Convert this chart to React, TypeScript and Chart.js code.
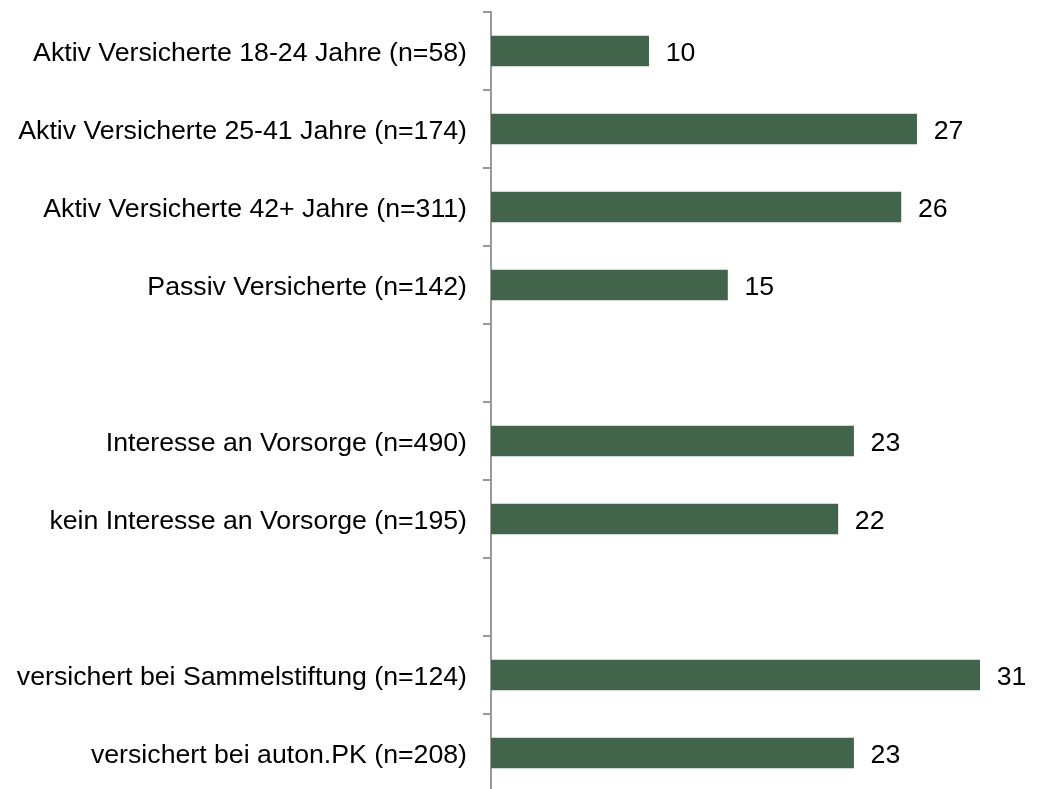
import React, { useEffect, useRef } from "react";
import { Chart, registerables } from "chart.js";

Chart.register(...registerables);

const categories = [
  "Aktiv Versicherte 18-24 Jahre (n=58)",
  "Aktiv Versicherte 25-41 Jahre (n=174)",
  "Aktiv Versicherte 42+ Jahre (n=311)",
  "Passiv Versicherte (n=142)",
  "",
  "Interesse an Vorsorge (n=490)",
  "kein Interesse an Vorsorge (n=195)",
  "",
  "versichert bei Sammelstiftung (n=124)",
  "versichert bei auton.PK (n=208)",
];
const values: (number | null)[] = [10, 27, 26, 15, null, 23, 22, null, 31, 23];

const FONT = "'Liberation Sans', Arial, sans-serif";
const FS = 26.7;

const textPlugin = {
  id: "textPlugin",
  afterDatasetsDraw(chart: any) {
    const ctx = chart.ctx;
    const meta = chart.getDatasetMeta(0);
    const yScale = chart.scales.y;
    ctx.save();
    ctx.font = `${FS}px ${FONT}`;
    ctx.fillStyle = "#000000";
    ctx.textBaseline = "middle";
    categories.forEach((c, i) => {
      if (!c) return;
      const y = yScale.getPixelForValue(i);
      ctx.textAlign = "right";
      ctx.fillText(c, yScale.right - 8 - 16, y + 3);
    });
    ctx.textAlign = "left";
    meta.data.forEach((el: any, i: number) => {
      const v = values[i];
      if (v === null || v === undefined) return;
      ctx.fillText(String(v), el.x + 17, el.y + 3);
    });
    ctx.restore();
  },
};

export default function App() {
  const ref = useRef<HTMLCanvasElement | null>(null);
  useEffect(() => {
    if (!ref.current) return;
    const chart = new Chart(ref.current, {
      type: "bar",
      data: {
        labels: categories,
        datasets: [
          {
            data: values,
            backgroundColor: "#41644A",
            borderWidth: 0,
            barThickness: 30,
          },
        ],
      },
      options: {
        indexAxis: "y",
        animation: false,
        responsive: false,
        maintainAspectRatio: false,
        layout: { padding: { top: 12, bottom: 8, right: 14, left: 0 } },
        plugins: { legend: { display: false }, tooltip: { enabled: false } },
        scales: {
          x: { display: false, min: 0, max: 34 },
          y: {
            type: "category",
            offset: true,
            afterFit(scale: any) {
              scale.width = 491;
              scale.paddingTop = 0;
              scale.paddingBottom = 0;
            },
            border: { display: true, color: "#999999", width: 2 },
            grid: {
              offset: true,
              drawOnChartArea: false,
              drawTicks: true,
              tickLength: 8,
              color: "#999999",
              lineWidth: 2,
            },
            ticks: {
              color: "rgba(0,0,0,0)",
              padding: 16,
              font: { family: FONT, size: FS },
              autoSkip: false,
            },
          },
        },
      },
      plugins: [textPlugin],
    });
    return () => chart.destroy();
  }, []);
  return (
    <div
      style={{
        position: "absolute",
        left: 0,
        top: 0,
        width: 1041,
        height: 789,
        overflow: "hidden",
        background: "#ffffff",
      }}
    >
      <canvas ref={ref} width={1041} height={800} style={{ display: "block" }} />
    </div>
  );
}
